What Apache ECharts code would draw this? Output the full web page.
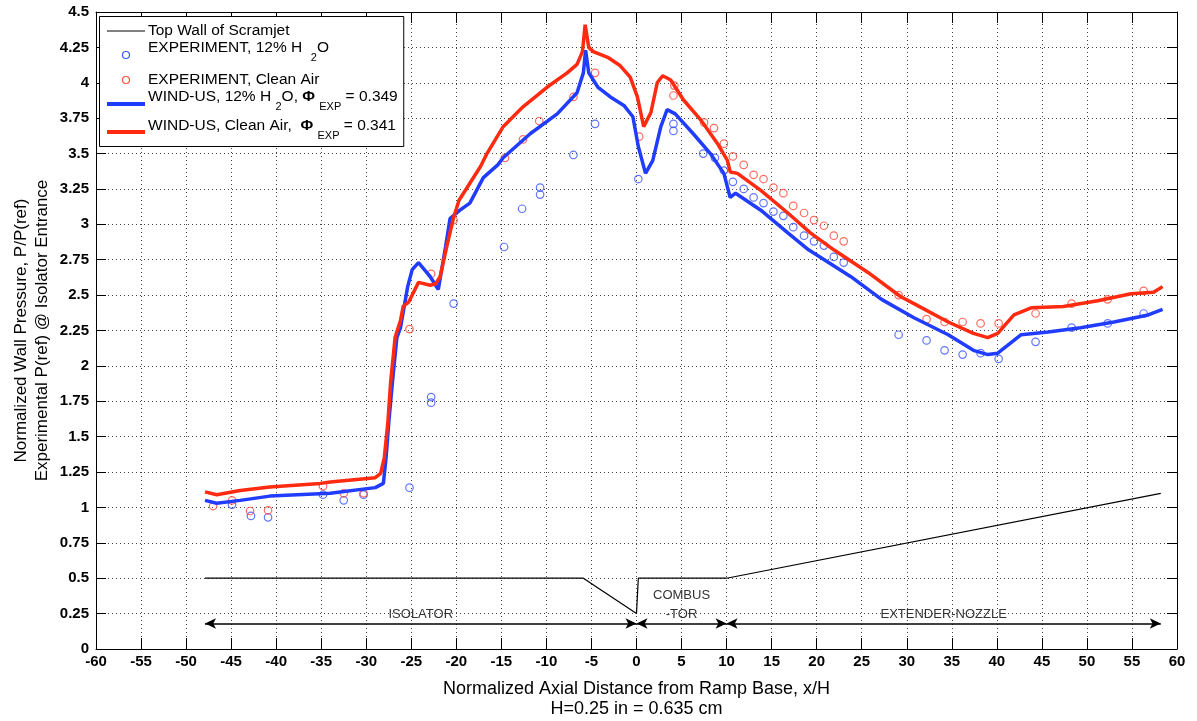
<!DOCTYPE html>
<html>
<head>
<meta charset="utf-8">
<title>Normalized Wall Pressure</title>
<script src="https://cdn.jsdelivr.net/npm/echarts@6/dist/echarts.min.js"></script>
<style>
  html, body { margin: 0; padding: 0; background: #fff; }
  #chart { width: 1197px; height: 721px; }
</style>
</head>
<body>
<div id="chart"></div>
<script>
// Axis ranges and tick spacing
const xRange = [-60, 60];
const xStep = 5;
const yRange = [0, 4.5];
const yStep = 0.25;

// Top wall geometry of the scramjet (x/H, height)
const topWall = [[-47.9, 0.5], [-5.9, 0.5], [0, 0.25], [0.2, 0.5], [10, 0.5], [58.2, 1.1]];

// Duct sections: boundaries along x/H and their names
const sectionBounds = [-47.9, 0, 10, 58.2];
const sectionNames = ['ISOLATOR', 'COMBUS\n-TOR', 'EXTENDER-NOZZLE'];
const sectionArrowY = 0.18;

// Experimental wall pressures, 12% H2O
const expWater = [
  [-44.9, 1.02], [-42.8, 0.94], [-40.9, 0.93], [-34.8, 1.09], [-32.5, 1.05], [-30.3, 1.09],
  [-25.2, 1.14], [-22.8, 1.78], [-22.8, 1.74], [-20.3, 2.44], [-14.7, 2.84], [-12.7, 3.11],
  [-10.7, 3.26], [-10.7, 3.21], [-7.0, 3.49], [-4.6, 3.71], [0.2, 3.32], [4.1, 3.71], [4.1, 3.66],
  [7.4, 3.50], [8.7, 3.47], [9.7, 3.38], [10.7, 3.30], [11.9, 3.25], [13.0, 3.19], [14.1, 3.15],
  [15.2, 3.09], [16.3, 3.06], [17.4, 2.98], [18.6, 2.92], [19.7, 2.88], [20.8, 2.85], [21.9, 2.77],
  [23.0, 2.73], [29.1, 2.22], [32.2, 2.18], [34.2, 2.11], [36.2, 2.08], [38.2, 2.09], [40.2, 2.05],
  [44.3, 2.17], [48.3, 2.27], [52.3, 2.30], [56.3, 2.37]
];

// Experimental wall pressures, clean air
const expClean = [
  [-47.0, 1.01], [-44.9, 1.05], [-42.9, 0.975], [-40.9, 0.98], [-34.8, 1.15], [-32.5, 1.10],
  [-30.3, 1.10], [-25.2, 2.26], [-22.8, 2.65], [-20.3, 3.03], [-14.6, 3.47], [-12.6, 3.60],
  [-10.8, 3.73], [-7.0, 3.90], [-4.6, 4.07], [0.3, 3.62], [4.1, 3.91], [4.2, 3.98], [7.5, 3.72],
  [8.6, 3.68], [9.7, 3.57], [10.7, 3.48], [11.9, 3.42], [13.0, 3.35], [14.1, 3.32], [15.2, 3.26],
  [16.3, 3.22], [17.4, 3.13], [18.6, 3.08], [19.7, 3.03], [20.8, 2.99], [21.9, 2.92], [23.0, 2.88],
  [29.1, 2.50], [32.2, 2.33], [34.2, 2.31], [36.2, 2.31], [38.2, 2.30], [40.2, 2.30], [44.3, 2.37],
  [48.3, 2.44], [52.3, 2.47], [56.3, 2.53]
];

// WIND-US solution, 12% H2O
const cfdWater = [
  [-47.9, 1.05], [-46.6, 1.03], [-44, 1.05], [-40.7, 1.08], [-34, 1.10], [-29, 1.14], [-28.1, 1.17],
  [-27.8, 1.35], [-27.5, 1.60], [-27.1, 1.88], [-26.6, 2.20], [-26.2, 2.27], [-25.4, 2.56],
  [-24.9, 2.68], [-24.2, 2.73], [-22.9, 2.63], [-22.0, 2.54], [-21.2, 2.84], [-20.7, 3.04],
  [-19.6, 3.10], [-18.5, 3.15], [-17.0, 3.33], [-15.4, 3.42], [-14.8, 3.47], [-11.8, 3.64],
  [-8.8, 3.78], [-6.6, 3.93], [-5.9, 4.07], [-5.65, 4.23], [-5.3, 4.07], [-4.3, 3.97], [-2.9, 3.90],
  [-1.4, 3.84], [-0.4, 3.76], [0.2, 3.55], [1.0, 3.36], [1.8, 3.45], [2.7, 3.69], [3.4, 3.81],
  [4.3, 3.78], [6.3, 3.64], [8.2, 3.50], [9.7, 3.36], [10.4, 3.19], [11.0, 3.22], [13.8, 3.10],
  [16.8, 2.94], [19.1, 2.82], [23.8, 2.63], [27.2, 2.47], [30.8, 2.34], [34.6, 2.22], [37.4, 2.11],
  [39.0, 2.08], [40.1, 2.09], [41.9, 2.18], [42.7, 2.22], [45.7, 2.24], [49.3, 2.27], [53.0, 2.31],
  [56.8, 2.36], [58.4, 2.40]
];

// WIND-US solution, clean air
const cfdClean = [
  [-47.9, 1.11], [-46.6, 1.09], [-44, 1.12], [-40.7, 1.145], [-35.1, 1.17], [-34, 1.18], [-29, 1.21],
  [-28.4, 1.24], [-28.0, 1.35], [-27.6, 1.60], [-27.3, 1.88], [-26.8, 2.20], [-26.2, 2.32],
  [-25.9, 2.42], [-25.3, 2.45], [-24.2, 2.59], [-22.9, 2.57], [-22.3, 2.58], [-21.8, 2.63],
  [-21.0, 2.86], [-20.3, 3.05], [-19.7, 3.17], [-18.5, 3.29], [-17.3, 3.41], [-16.6, 3.50],
  [-14.8, 3.69], [-12.6, 3.83], [-9.9, 3.97], [-7.7, 4.07], [-6.6, 4.13], [-6.0, 4.22], [-5.7, 4.41],
  [-5.3, 4.25], [-4.8, 4.22], [-3.2, 4.18], [-1.8, 4.12], [-0.7, 4.04], [0.1, 3.90], [0.8, 3.69],
  [1.6, 3.79], [2.3, 4.00], [2.9, 4.05], [3.8, 4.02], [5.2, 3.88], [7.1, 3.74], [9.0, 3.57],
  [10.1, 3.45], [10.4, 3.37], [11.2, 3.36], [13.8, 3.24], [16.8, 3.08], [19.3, 2.94], [21.9, 2.82],
  [25.7, 2.66], [29.3, 2.49], [30.8, 2.44], [34.6, 2.31], [37.4, 2.23], [39.0, 2.20], [40.1, 2.23],
  [41.9, 2.36], [43.8, 2.41], [47.4, 2.42], [51.2, 2.46], [54.9, 2.51], [57.4, 2.52], [58.4, 2.56]
];

const FONT = '"Liberation Sans", Arial, Helvetica, sans-serif';
const BLUE = '#1f3cff';
const RED = '#ff2a0f';
const BLUE_PT = '#3a55ff';
const RED_PT = '#ff4a3a';

const chart = echarts.init(document.getElementById('chart'), null, { renderer: 'canvas' });

// Section arrows along the bottom of the duct sketch
const sectionLines = sectionNames.map((name, i) => [
  { coord: [sectionBounds[i], sectionArrowY], name: name },
  { coord: [sectionBounds[i + 1], sectionArrowY] }
]);

// Legend drawn as a boxed key with sub-scripted labels
const measure = document.createElement('canvas').getContext('2d');
const legendRows = [
  { kind: 'line', color: '#000', width: 1, y: 31, textY: 31, parts: [['Top Wall of Scramjet', 0]] },
  { kind: 'dot', color: BLUE_PT, y: 55, textY: 48, parts: [['EXPERIMENT, 12% H  ', 0], ['2', 1], ['O', 0]] },
  { kind: 'dot', color: RED_PT, y: 80, textY: 80, parts: [['EXPERIMENT, Clean Air', 0]] },
  { kind: 'line', color: BLUE, width: 4, y: 104, textY: 97, parts: [['WIND-US, 12% H ', 0], ['2', 1], ['O, ', 0], ['\u03A6', 2], [' ', 0], ['EXP', 1], [' = 0.349', 0]] },
  { kind: 'line', color: RED, width: 4, y: 132, textY: 126, parts: [['WIND-US, Clean Air,  ', 0], ['\u03A6', 2], [' ', 0], ['EXP', 1], [' = 0.341', 0]] }
];
const LEGEND_Z = 100;
const legendEls = [];
const textX0 = 148;
let maxRight = 0;
legendRows.forEach(row => {
  if (row.kind === 'line') {
    legendEls.push({ type: 'line', z: LEGEND_Z + 1, shape: { x1: 107, y1: row.y, x2: 145, y2: row.y },
      style: { stroke: row.color, lineWidth: row.width } });
  } else {
    legendEls.push({ type: 'circle', z: LEGEND_Z + 1, shape: { cx: 126, cy: row.y, r: 3.5 },
      style: { fill: 'none', stroke: row.color, lineWidth: 1.2 } });
  }
  let x = textX0;
  row.parts.forEach(([t, kind]) => {
    const size = kind === 1 ? 11 : 15.5;
    const weight = kind === 2 ? 'bold' : 'normal';
    const y = kind === 1 ? row.textY + 10 : row.textY;
    const font = weight + ' ' + size + 'px ' + FONT;
    legendEls.push({ type: 'text', z: LEGEND_Z + 1, x: x, y: y,
      style: { text: t, font: font, fill: '#000', textVerticalAlign: 'middle' } });
    measure.font = font;
    x += measure.measureText(t).width;
  });
  maxRight = Math.max(maxRight, x);
});
legendEls.unshift({ type: 'rect', z: LEGEND_Z, shape: { x: 99.5, y: 16.5, width: maxRight + 6 - 99.5, height: 130 },
  style: { fill: '#fff', stroke: '#000', lineWidth: 1 } });

const axisCommon = {
  type: 'value',
  axisLine: { show: true, onZero: false, lineStyle: { color: '#000', width: 1 } },
  axisTick: { show: true, inside: true, length: 11, lineStyle: { color: '#000', width: 1 } }
};
const tickLabel = { color: '#000', fontSize: 15, fontWeight: 'bold', fontFamily: FONT };
const gridLine = { show: true, lineStyle: { type: [1, 3], color: '#444', width: 1 } };

const option = {
  animation: false,
  backgroundColor: '#fff',
  textStyle: { fontFamily: FONT },
  grid: { left: 96, right: 20, top: 12, bottom: 72, containLabel: false, outerBoundsMode: 'none' },
  xAxis: [
    Object.assign({}, axisCommon, {
      min: xRange[0], max: xRange[1], interval: xStep, position: 'bottom',
      axisLabel: Object.assign({ margin: 5 }, tickLabel),
      splitLine: gridLine,
      name: 'Normalized Axial Distance from Ramp Base, x/H\nH=0.25 in = 0.635 cm',
      nameLocation: 'middle', nameGap: 30, nameMoveOverlap: false,
      nameTextStyle: { color: '#000', fontSize: 18, lineHeight: 20, fontFamily: FONT }
    }),
    Object.assign({}, axisCommon, {
      min: xRange[0], max: xRange[1], interval: xStep, position: 'top',
      axisLabel: { show: false }, splitLine: { show: false }
    })
  ],
  yAxis: [
    Object.assign({}, axisCommon, {
      min: yRange[0], max: yRange[1], interval: yStep, position: 'left',
      axisTick: { show: true, inside: true, length: 10, lineStyle: { color: '#000', width: 1 } },
      axisLabel: Object.assign({ margin: 7 }, tickLabel),
      splitLine: gridLine,
      name: 'Normalized Wall Pressure, P/P(ref)\nExperimental P(ref) @ Isolator Entrance',
      nameLocation: 'middle', nameGap: 43, nameMoveOverlap: false,
      nameTextStyle: { color: '#000', fontSize: 17, lineHeight: 21, fontFamily: FONT }
    }),
    Object.assign({}, axisCommon, {
      min: yRange[0], max: yRange[1], interval: yStep, position: 'right',
      axisTick: { show: true, inside: true, length: 10, lineStyle: { color: '#000', width: 1 } },
      axisLabel: { show: false }, splitLine: { show: false }
    })
  ],
  series: [
    {
      name: 'Top Wall of Scramjet', type: 'line', data: topWall, showSymbol: false, silent: true,
      lineStyle: { color: '#000', width: 1.2 }, z: 2,
      markLine: {
        silent: true, animation: false,
        symbol: ['arrow', 'arrow'], symbolSize: [8, 11], precision: 3,
        lineStyle: { color: '#000', width: 1.5, type: 'solid' },
        label: { show: true, position: 'middle', formatter: p => p.name, color: '#333',
          fontSize: 13, lineHeight: 19, distance: 0, fontFamily: FONT },
        data: sectionLines
      }
    },
    {
      name: 'EXPERIMENT, 12% H2O', type: 'scatter', data: expWater, symbol: 'circle', symbolSize: 7.5,
      itemStyle: { color: 'rgba(0,0,0,0)', borderColor: BLUE_PT, borderWidth: 1.2 }, z: 3
    },
    {
      name: 'EXPERIMENT, Clean Air', type: 'scatter', data: expClean, symbol: 'circle', symbolSize: 7.5,
      itemStyle: { color: 'rgba(0,0,0,0)', borderColor: RED_PT, borderWidth: 1.2 }, z: 3
    },
    {
      name: 'WIND-US, 12% H2O', type: 'line', data: cfdWater, showSymbol: false,
      lineStyle: { color: BLUE, width: 3.5 }, z: 4
    },
    {
      name: 'WIND-US, Clean Air', type: 'line', data: cfdClean, showSymbol: false,
      lineStyle: { color: RED, width: 3.5 }, z: 4
    }
  ],
  graphic: { elements: legendEls }
};

chart.setOption(option);
</script>
</body>
</html>
